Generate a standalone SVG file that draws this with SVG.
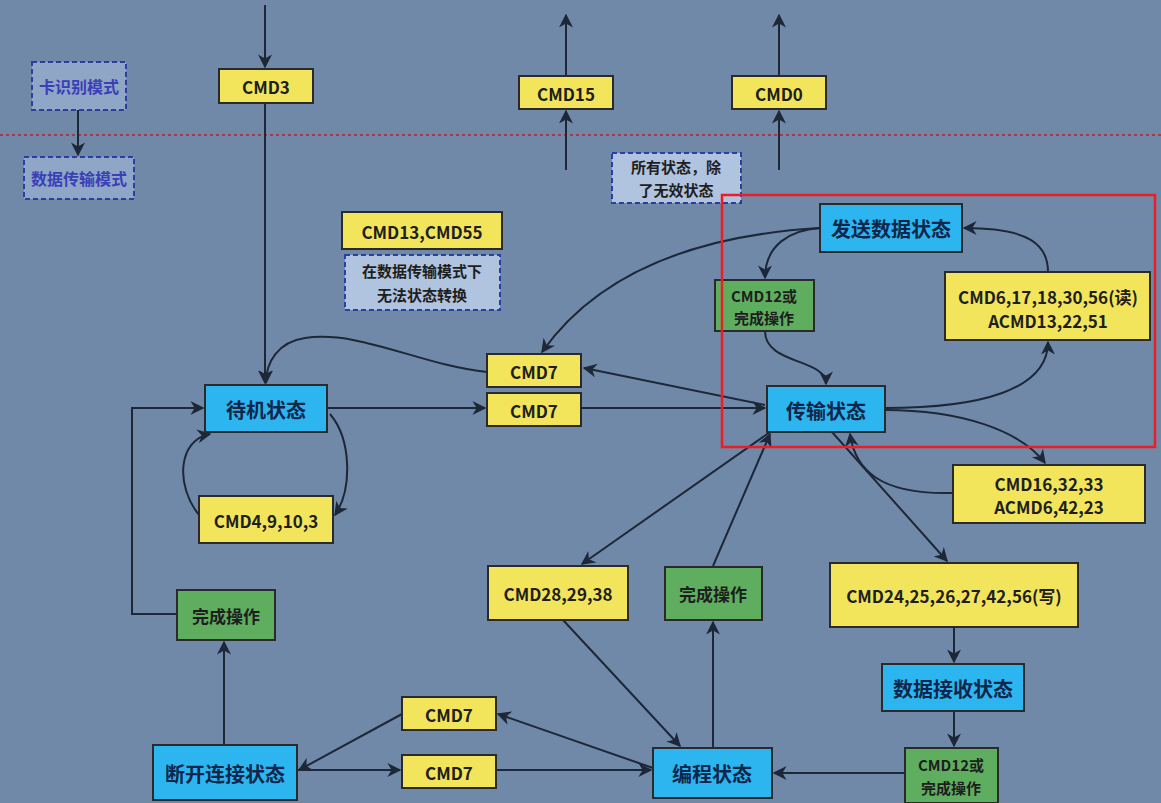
<svg xmlns="http://www.w3.org/2000/svg" width="1161" height="803" viewBox="0 0 1161 803">
<style>
text{font-family:"Noto Sans CJK SC","Liberation Sans",sans-serif;font-size:17px;font-weight:bold;fill:#1e1e1e;text-anchor:middle;dominant-baseline:central}
.y{fill:#f2e55c;stroke:#2a2a2a;stroke-width:2}
.g{fill:#5fae5f;stroke:#2a2a2a;stroke-width:2}
.c{fill:#2db5ef;stroke:#2a2a2a;stroke-width:2}
.c+text{font-size:20px;fill:#10264a}
.d{fill:#8fa6c6;stroke:#2a3fa0;stroke-width:2;stroke-dasharray:5 3}
.n{fill:#3a3fb8;font-size:16px}
.s{font-size:15px}
#conn path{fill:none;stroke:#1c2838;stroke-width:2}
</style>
<defs>
<marker id="a" viewBox="0 0 10 10" refX="9" refY="5" markerWidth="7" markerHeight="7" orient="auto"><path d="M0,0 L10,5 L0,10 L3,5 z" fill="#1c2838"/></marker>
</defs>
<rect width="1161" height="803" fill="#7189a9"/>
<line x1="0" y1="135" x2="1161" y2="135" stroke="#a43a4e" stroke-width="2" stroke-dasharray="3 3"/>
<g id="conn" marker-end="url(#a)">
<path d="M78,110 L78,155"/>
<path d="M265,5 L265,67"/>
<path d="M265,103 L265,383"/>
<path d="M566,170 L566,111"/>
<path d="M566,76 L566,15"/>
<path d="M779,170 L779,111"/>
<path d="M779,76 L779,15"/>
<path d="M327,408 L485,408"/>
<path d="M581,408 L765,408"/>
<path d="M765,405 L584,368"/>
<path d="M487,372 C420,365 360,330 305,338 C278,342 266,362 266,383"/>
<path d="M820,228 C700,235 600,270 542,352"/>
<path d="M820,228 C790,230 765,245 765,278"/>
<path d="M765,331 C765,365 826,358 826,384"/>
<path d="M885,408 C980,408 1048,390 1048,342"/>
<path d="M1048,272 C1048,245 1030,228 964,228"/>
<path d="M885,410 C960,410 1020,430 1045,463"/>
<path d="M953,493 C880,495 855,470 850,434"/>
<path d="M770,432 L582,564"/>
<path d="M713,566 L770,434"/>
<path d="M832,432 L947,561"/>
<path d="M954,627 L954,662"/>
<path d="M954,711 L954,746"/>
<path d="M905,773 L774,773"/>
<path d="M563,620 L680,746"/>
<path d="M713,748 L713,622"/>
<path d="M653,768 L498,714"/>
<path d="M402,714 L299,770"/>
<path d="M297,770 L400,770"/>
<path d="M496,770 L651,770"/>
<path d="M224,745 L224,642"/>
<path d="M177,614 L132,614 L132,408 L203,408"/>
<path d="M330,414 C352,440 352,490 335,515"/>
<path d="M199,515 C175,485 178,440 210,434"/>
</g>
<g id="mode1"><rect class="d" x="32" y="62" width="94" height="48"/><text class="n" x="79" y="86">卡识别模式</text></g>
<g id="mode2"><rect class="d" x="24" y="157" width="110" height="42"/><text class="n" x="79" y="178">数据传输模式</text></g>
<g id="cmd3"><rect class="y" x="219" y="69" width="94" height="34"/><text x="266" y="86">CMD3</text></g>
<g id="cmd15"><rect class="y" x="519" y="76" width="94" height="33"/><text x="566" y="93">CMD15</text></g>
<g id="cmd0"><rect class="y" x="732" y="76" width="94" height="33"/><text x="779" y="93">CMD0</text></g>
<g id="note1"><rect class="d" x="612" y="153" width="129" height="50" style="fill:#b0c3df"/><text class="s" x="676" y="166">所有状态，除</text><text class="s" x="676" y="189">了无效状态</text></g>
<g id="cmd13"><rect class="y" x="342" y="212" width="160" height="37"/><text x="422" y="231">CMD13,CMD55</text></g>
<g id="note2"><rect class="d" x="345" y="255" width="155" height="55" style="fill:#b0c3df"/><text class="s" x="422" y="270">在数据传输模式下</text><text class="s" x="422" y="294">无法状态转换</text></g>
<g id="standby"><rect class="c" x="205" y="385" width="122" height="47"/><text x="266" y="409">待机状态</text></g>
<g id="cmd7a"><rect class="y" x="487" y="354" width="94" height="33"/><text x="534" y="371">CMD7</text></g>
<g id="cmd7b"><rect class="y" x="487" y="393" width="94" height="33"/><text x="534" y="410">CMD7</text></g>
<g id="transfer"><rect class="c" x="767" y="386" width="118" height="46"/><text x="826" y="410">传输状态</text></g>
<g id="send"><rect class="c" x="820" y="204" width="142" height="48"/><text x="891" y="228">发送数据状态</text></g>
<g id="cmd12a"><rect class="g" x="715" y="280" width="99" height="51"/><text class="s" x="764" y="295">CMD12或</text><text class="s" x="764" y="317">完成操作</text></g>
<g id="cmd6"><rect class="y" x="945" y="272" width="205" height="68"/><text x="1048" y="296">CMD6,17,18,30,56(读)</text><text x="1048" y="320">ACMD13,22,51</text></g>
<g id="cmd16"><rect class="y" x="953" y="465" width="192" height="58"/><text x="1049" y="483">CMD16,32,33</text><text x="1049" y="506">ACMD6,42,23</text></g>
<g id="cmd4"><rect class="y" x="199" y="496" width="134" height="47"/><text x="266" y="520">CMD4,9,10,3</text></g>
<g id="done1"><rect class="g" x="177" y="590" width="98" height="50"/><text x="226" y="615" font-size="16">完成操作</text></g>
<g id="cmd28"><rect class="y" x="488" y="566" width="140" height="54"/><text x="558" y="593">CMD28,29,38</text></g>
<g id="done2"><rect class="g" x="665" y="567" width="97" height="53"/><text x="713" y="593" font-size="16">完成操作</text></g>
<g id="cmd24"><rect class="y" x="830" y="563" width="248" height="64"/><text x="954" y="595">CMD24,25,26,27,42,56(写)</text></g>
<g id="recv"><rect class="c" x="882" y="664" width="142" height="47"/><text x="953" y="688">数据接收状态</text></g>
<g id="disc"><rect class="c" x="153" y="745" width="144" height="55"/><text x="225" y="773">断开连接状态</text></g>
<g id="cmd7c"><rect class="y" x="402" y="697" width="94" height="33"/><text x="449" y="714">CMD7</text></g>
<g id="cmd7d"><rect class="y" x="402" y="755" width="94" height="33"/><text x="449" y="772">CMD7</text></g>
<g id="prog"><rect class="c" x="653" y="748" width="119" height="50"/><text x="712" y="773">编程状态</text></g>
<g id="cmd12b"><rect class="g" x="905" y="748" width="93" height="55"/><text class="s" x="951" y="764">CMD12或</text><text class="s" x="951" y="787">完成操作</text></g>
<rect x="722" y="195" width="433" height="252" fill="none" stroke="#ee1c24" stroke-width="2.5"/>
</svg>
